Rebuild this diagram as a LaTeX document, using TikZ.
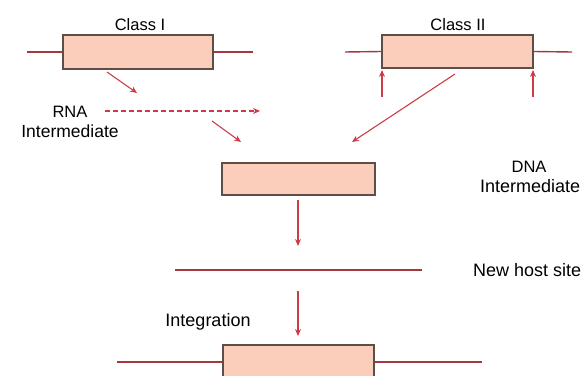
\documentclass[tikz,border=0pt]{standalone}
\usepackage{fontspec}
\setmainfont{Liberation Sans}
\usetikzlibrary{arrows.meta}
\definecolor{boxfill}{RGB}{251,206,188}
\definecolor{boxline}{RGB}{95,78,72}
\definecolor{dnaline}{RGB}{165,55,65}
\definecolor{arrowred}{RGB}{205,60,70}
\tikzset{
  gene/.style={draw=boxline, line width=1.6pt, fill=boxfill, minimum width=151pt, minimum height=33pt, inner sep=0pt, rectangle},
  flank/.style={draw=dnaline, line width=1.4pt},
  arr/.style={draw=arrowred, line width=1.1pt, -{Stealth[length=7pt,width=6pt]}},
  darr/.style={arr, dashed, dash pattern=on 5pt off 3pt},
  lbl/.style={font=\fontsize{16.5}{18}\selectfont, inner sep=0pt, anchor=base},
  lbll/.style={lbl, anchor=base west},
  biglbl/.style={font=\fontsize{18}{20}\selectfont}
}
\begin{document}
\begin{tikzpicture}[x=1pt,y=-1pt]
\useasboundingbox (0,0) rectangle (581,375);
% genes
\node[gene, minimum width=150pt, minimum height=34pt] (b1) at (138,52) {};
\node[gene] (b2) at (457.5,51.5) {};
\node[gene, minimum width=153pt, minimum height=32pt] (b3) at (298.5,179) {};
\node[gene, minimum height=34pt] (b4) at (298.5,362) {};
% flanking lines
\coordinate (b1l) at (27,52);
\coordinate (b1r) at (253,52);
\coordinate (b2l) at (345,52);
\coordinate (b2r) at (572,52);
\coordinate (b4l) at (117,362);
\coordinate (b4r) at (482,362);
\coordinate (h1) at (175,270);
\coordinate (h2) at (422,270);
\draw[flank] (b1l) -- (b1.west);
\draw[flank] (b1.east) -- (b1r);
\draw[flank] (b2l) -- (b2.west);
\draw[flank] (b2.east) -- (b2r);
\draw[flank] (b4l) -- (b4.west);
\draw[flank] (b4.east) -- (b4r);
\draw[flank] (h1) -- (h2);
% arrows
\coordinate (a1s) at (107,72);
\coordinate (a1e) at (137,93);
\coordinate (ds) at (105,111);
\coordinate (de) at (260,111);
\coordinate (a2s) at (212,121);
\coordinate (a2e) at (241,142);
\coordinate (a3s) at (455,74);
\coordinate (a3e) at (352,142);
\coordinate (u1s) at (382,97);
\coordinate (u1e) at (382,70);
\coordinate (u2s) at (533,97);
\coordinate (u2e) at (533,70);
\coordinate (d1s) at (298,200);
\coordinate (d1e) at (298,246);
\coordinate (d2s) at (298,291);
\coordinate (d2e) at (298,336);
\draw[arr] (a1s) -- (a1e);
\draw[darr] (ds) -- (de);
\draw[arr] (a2s) -- (a2e);
\draw[arr] (a3s) -- (a3e);
\draw[arr] (u1s) -- (u1e);
\draw[arr] (u2s) -- (u2e);
\draw[arr] (d1s) -- (d1e);
\draw[arr] (d2s) -- (d2e);
% labels
\node[lbl] (t1) at (140,30) {Class I};
\node[lbl] (t2) at (458,30) {Class II};
\node[lbl] (t3) at (70,117) {RNA};
\node[lbl, font=\fontsize{17.5}{19}\selectfont] (t4) at (70,137) {Intermediate};
\node[lbl] (t5) at (529,172) {DNA};
\node[lbll, biglbl] (t6) at (480,192) {Intermediate};
\node[lbll, biglbl] (t7) at (473,276) {New host site};
\node[lbl, biglbl] (t8) at (208,326) {Integration};
\end{tikzpicture}
\end{document}
